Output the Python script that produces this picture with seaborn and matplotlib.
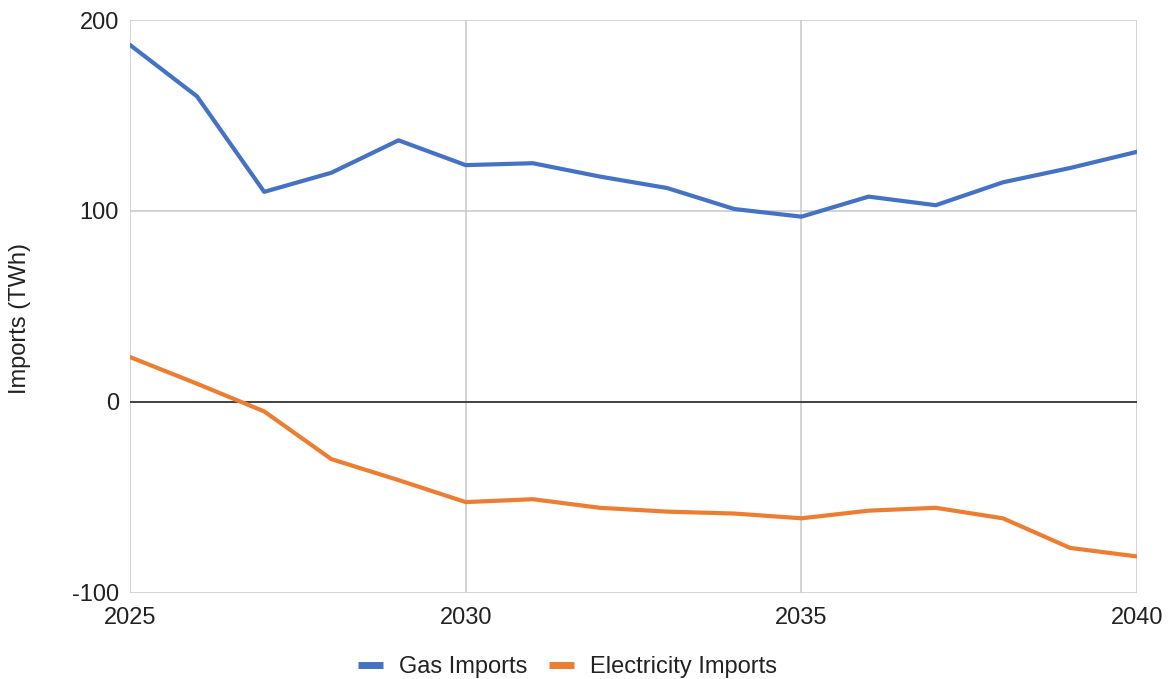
import matplotlib
matplotlib.use("Agg")
import matplotlib.pyplot as plt
import seaborn as sns
import pandas as pd

years = list(range(2025, 2041))
gas_imports = [187, 160, 110, 120, 137, 124, 125, 118, 112, 101, 97, 107.5, 103, 115, 122.5, 131]
electricity_imports = [23.5, 9.5, -5, -30, -41, -52.5, -51, -55.5, -57.5, -58.5, -61, -57, -55.5, -61, -76.5, -81]
series_names = ["Gas Imports", "Electricity Imports"]
series_colors = ["#4472C4", "#ED7D31"]
y_ticks = [-100, 0, 100, 200]
x_ticks = [2025, 2030, 2035, 2040]

df = pd.DataFrame({
    "Year": years * 2,
    "Imports": gas_imports + electricity_imports,
    "Series": [series_names[0]] * len(years) + [series_names[1]] * len(years),
})

sns.set_theme(style="white")
plt.rcParams["font.family"] = ["Liberation Sans", "DejaVu Sans"]

fig = plt.figure(figsize=(11.7, 6.79), dpi=100)
ax = fig.add_axes([0.111, 0.127, 0.861, 0.8435])

sns.lineplot(data=df, x="Year", y="Imports", hue="Series", hue_order=series_names,
             palette=series_colors, linewidth=3, ax=ax, legend=False)

ax.set_xlim(2025, 2040)
ax.set_ylim(-100, 200)
ax.set_xticks(x_ticks)
ax.set_yticks(y_ticks)
ax.set_xticklabels([str(t) for t in x_ticks])
ax.set_yticklabels([str(t) for t in y_ticks])

for s in ax.spines.values():
    s.set_visible(False)
for t in x_ticks:
    ax.axvline(t, color="#cccccc", linewidth=1.2, zorder=0)
for t in [-100, 100, 200]:
    ax.axhline(t, color="#cccccc", linewidth=1.2, zorder=0)
ax.axhline(0, color="#333333", linewidth=1.3, zorder=1)

ax.tick_params(axis="both", length=0, labelsize=17, colors="#222222")
ax.tick_params(axis="y", pad=8)
ax.tick_params(axis="x", pad=10)
ax.set_xlabel("")
ax.set_ylabel("Imports (TWh)", fontsize=17, color="#222222")
ax.yaxis.set_label_coords(-0.098, 0.478)

handles = [plt.Line2D([0], [0], color=c, linewidth=5, solid_capstyle="butt") for c in series_colors]
fig.legend(handles, series_names, loc="center", bbox_to_anchor=(0.485, 0.018),
           ncol=2, frameon=False, fontsize=17, handlelength=1.05, columnspacing=0.9,
           handletextpad=0.7, labelcolor="#222222")

fig.savefig("out.png", dpi=100)
